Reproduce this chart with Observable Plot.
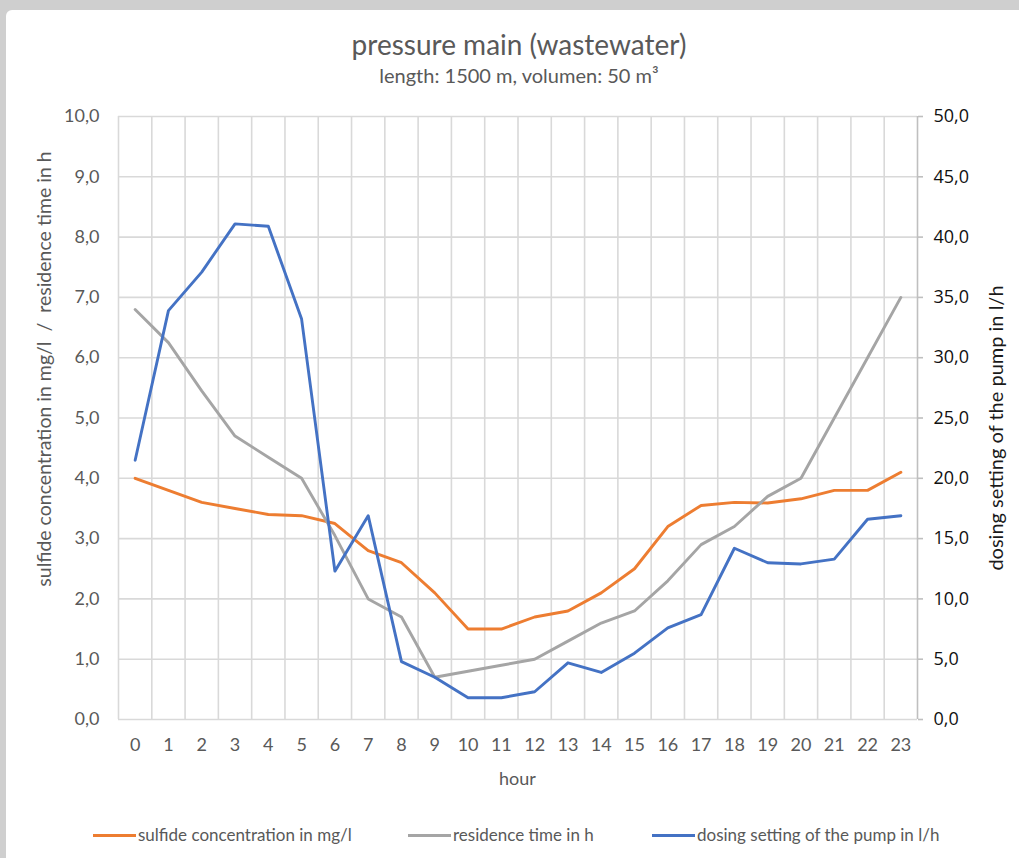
<!DOCTYPE html>
<html>
<head>
<meta charset="utf-8">
<script src="https://cdn.jsdelivr.net/npm/d3@7"></script>
<script src="https://cdn.jsdelivr.net/npm/@observablehq/plot@0.6"></script>
<style>
  html, body { margin: 0; padding: 0; }
  body { width: 1019px; height: 858px; position: relative; overflow: hidden; background: #cfcfcf; font-family: Lato, "Open Sans", sans-serif; }
  #card { position: absolute; left: 6px; top: 10px; right: 0; bottom: 0; background: #fff; border-top-left-radius: 6px; }
  .abs { position: absolute; white-space: nowrap; line-height: 1.2; }
  #title { left: 0; width: 1038px; top: 28px; text-align: center; font-size: 28px; color: #595959; }
  #subtitle { left: 0; width: 1038px; top: 63px; text-align: center; font-size: 20px; color: #595959; }
  #ytitle { left: 44px; top: 369px; transform: translate(-50%, -50%) rotate(-90deg); font-size: 19.5px; color: #595959; }
  #y2title { left: 995px; top: 428px; transform: translate(-50%, -50%) rotate(-90deg); font-size: 20px; color: #1a1a1a; }
  #xtitle { left: 0; width: 1035px; top: 768px; text-align: center; font-size: 18px; color: #595959; }
  #chart { position: absolute; left: 0; top: 96px; }
  .leg { position: absolute; top: 824px; font-size: 17px; color: #595959; line-height: 21px; }
  .sw { position: absolute; height: 3px; top: 834px; }
</style>
</head>
<body>
<div id="card"></div>
<div id="chart"></div>
<div class="abs" id="title">pressure main (wastewater)</div>
<div class="abs" id="subtitle">length: 1500 m, volumen: 50 m³</div>
<div class="abs" id="ytitle">sulfide concentration in mg/l &nbsp;/ &nbsp;residence time in h</div>
<div class="abs" id="y2title">dosing setting of the pump in l/h</div>
<div class="abs" id="xtitle">hour</div>
<div id="legend"></div>
<script>
// ---- data ----
const hours = [0,1,2,3,4,5,6,7,8,9,10,11,12,13,14,15,16,17,18,19,20,21,22,23];
const sulfide = [4.0,3.8,3.6,3.5,3.4,3.38,3.25,2.8,2.6,2.1,1.5,1.5,1.7,1.8,2.1,2.5,3.2,3.55,3.6,3.59,3.66,3.8,3.8,4.1];
const residence = [6.8,6.25,5.45,4.7,4.35,4.0,3.05,2.0,1.7,0.7,0.8,0.9,1.0,1.3,1.6,1.8,2.3,2.9,3.2,3.7,4.0,5.0,6.0,7.0];
const dosing = [21.5,33.9,37.1,41.1,40.9,33.2,12.3,16.9,4.8,3.5,1.8,1.8,2.3,4.7,3.9,5.5,7.6,8.7,14.2,13.0,12.9,13.3,16.6,16.9];
const leftTicks = [0,1,2,3,4,5,6,7,8,9,10];
const rightTicks = [0,5,10,15,20,25,30,35,40,45,50];
const seriesNames = ["sulfide concentration in mg/l", "residence time in h", "dosing setting of the pump in l/h"];
const seriesColors = ["#ED7D31", "#A5A5A5", "#4472C4"];
const rightFactor = 5; // right axis max 50 vs left axis max 10

const rows = hours.map((h, i) => ({hour: h, sulfide: sulfide[i], residence: residence[i], dosing: dosing[i]}));
const boundaries = hours.map(h => h - 0.5).concat([hours[hours.length - 1] + 0.5]);
const fmt = v => v.toFixed(1).replace(".", ",");

const chart = Plot.plot({
  width: 1019,
  height: 704,
  marginLeft: 118,
  marginRight: 102,
  marginTop: 20,
  marginBottom: 81,
  style: {background: "transparent", fontFamily: "Lato, 'Open Sans', sans-serif", fontSize: "18px"},
  x: {type: "linear", domain: [boundaries[0], boundaries[boundaries.length - 1]]},
  y: {domain: [0, 10]},
  marks: [
    Plot.ruleX(boundaries.slice(0, -1), {stroke: "#d9d9d9", strokeWidth: 1.6}),
    Plot.ruleY(leftTicks, {stroke: "#d9d9d9", strokeWidth: 1.6}),
    Plot.ruleX(boundaries.slice(-1), {stroke: "#bfbfbf", strokeWidth: 1.6}),
    Plot.axisY(leftTicks, {anchor: "left", tickSize: 0, tickPadding: 19, tickFormat: fmt, fill: "#595959", label: null, fontSize: 18}),
    Plot.axisY(rightTicks.map(v => v / rightFactor), {anchor: "right", tickSize: 5, tickPadding: 11, stroke: "#bfbfbf", strokeWidth: 1.6, tickFormat: v => fmt(v * rightFactor), fill: "#111", label: null, fontSize: 18, fontFamily: "'Open Sans', Lato, sans-serif"}),
    Plot.axisX(hours, {anchor: "bottom", tickSize: 0, tickPadding: 19, tickFormat: d => String(d), fill: "#595959", label: null, fontSize: 18}),
    Plot.line(rows, {x: "hour", y: "sulfide", stroke: seriesColors[0], strokeWidth: 2.9, strokeLinejoin: "round", strokeLinecap: "round"}),
    Plot.line(rows, {x: "hour", y: "residence", stroke: seriesColors[1], strokeWidth: 2.9, strokeLinejoin: "round", strokeLinecap: "round"}),
    Plot.line(rows, {x: "hour", y: d => d.dosing / rightFactor, stroke: seriesColors[2], strokeWidth: 2.9, strokeLinejoin: "round", strokeLinecap: "round"})
  ]
});
document.getElementById("chart").appendChild(chart);

// legend
const legPos = [[93, 138], [408, 453], [652, 697]];
const legend = document.getElementById("legend");
seriesNames.forEach((name, i) => {
  const sw = document.createElement("div");
  sw.className = "sw";
  sw.style.left = legPos[i][0] + "px";
  sw.style.width = (legPos[i][1] - legPos[i][0] - 2) + "px";
  sw.style.background = seriesColors[i];
  legend.appendChild(sw);
  const t = document.createElement("div");
  t.className = "leg";
  t.style.left = legPos[i][1] + "px";
  t.textContent = name;
  legend.appendChild(t);
});
</script>
</body>
</html>
